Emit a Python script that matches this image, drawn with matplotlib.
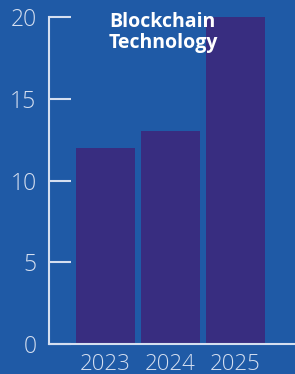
import matplotlib.pyplot as plt

years = ['2023', '2024', '2025']
values = [12, 13, 20]
yticks = [0, 5, 10, 15, 20]
title = 'Blockchain\nTechnology'

bg = '#1f5aa6'
bar_color = '#382d80'
line_color = '#d5dff0'

plt.rcParams['font.family'] = ['Open Sans', 'DejaVu Sans']

fig = plt.figure(figsize=(2.95, 3.74), dpi=100, facecolor=bg)
ax = fig.add_axes([0.166, 0.0802, 0.834, 0.8743])
ax.set_facecolor(bg)

x = range(len(years))
ax.bar(x, values, width=0.9, color=bar_color, zorder=2)

ax.set_xlim(-0.87, 2.915)
ax.set_ylim(0, 20)
ax.set_yticks(yticks)
ax.set_xticks(list(x))
ax.set_xticklabels(years)

for side in ['top', 'right']:
    ax.spines[side].set_visible(False)
for side in ['left', 'bottom']:
    ax.spines[side].set_color(line_color)
    ax.spines[side].set_linewidth(1.5)

ax.tick_params(axis='y', direction='in', length=16, width=1.5, color=line_color,
               labelcolor=line_color, labelsize=16.5, pad=9)
ax.tick_params(axis='x', length=0, labelcolor=line_color, labelsize=16, pad=7)
for lab in ax.get_xticklabels() + ax.get_yticklabels():
    lab.set_fontweight('light')

fig.text(109 / 295, 1 - 12 / 374, title, color='white', fontsize=14,
         fontweight='bold', ha='left', va='top', linespacing=1.05, zorder=5)

plt.savefig('out.png', dpi=100, facecolor=bg)
